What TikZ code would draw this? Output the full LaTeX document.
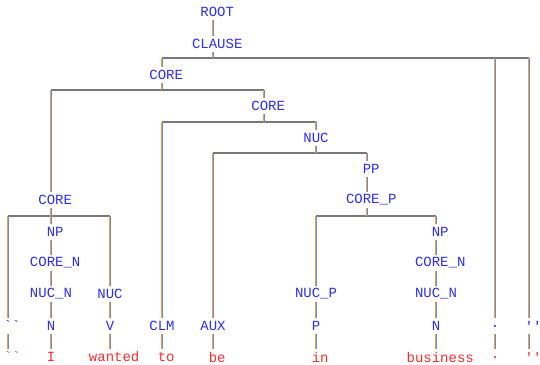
\documentclass[tikz,border=0pt]{standalone}
\usepackage{fontspec}
\setmonofont{Liberation Mono}
\usetikzlibrary{positioning}
\definecolor{catblue}{RGB}{45,45,245}
\definecolor{wordred}{RGB}{250,45,45}
\definecolor{bargray}{RGB}{120,120,120}
\definecolor{linkorange}{RGB}{240,160,60}
\definecolor{linkblue}{RGB}{100,140,215}
\tikzstyle{cat} = [font=\ttfamily\fontsize{14}{14}\selectfont, text=catblue, inner sep=0pt, minimum height=16pt]
\tikzstyle{word} = [font=\ttfamily\fontsize{14}{14}\selectfont, text=wordred, inner sep=0pt, minimum height=16pt]
\tikzstyle{even} = [execute at begin node=\hphantom{x}]
\tikzstyle{linkA} = [draw=linkorange, line width=1pt, transform canvas={xshift=-0.5pt}]
\tikzstyle{linkB} = [draw=linkblue, line width=1pt, transform canvas={xshift=0.5pt}]
\tikzstyle{bar} = [draw=bargray, line width=1.4pt]
% one orange and one blue stroke side by side
\newcommand{\treelink}[2]{\draw [linkA] (#1) -- (#2); \draw [linkB] (#1) -- (#2);}

\begin{document}
\begin{tikzpicture}[x=1pt, y=-1pt]
\useasboundingbox (0,0) rectangle (540,364);

% Upper part of the tree
\node (root) [cat, even] at (213,12) {ROOT};
\node (clause) [cat, even] at (213,44) {CLAUSE};
\node (coreA) [cat, even] at (162,75) {CORE};
\node (coreB) [cat, even] at (264,106) {CORE};
\node (nuc) [cat] at (316,138) {NUC};
\node (pp) [cat, even] at (367,169) {PP};
\node (coreP) [cat, even] at (367,200) {CORE\_P};
\node (coreC) [cat, even] at (51,200) {CORE};

% Left noun phrase and verb
\node (npA) [cat, even] at (51,232) {NP};
\node (corenA) [cat, even] at (51,263) {CORE\_N};
\node (nucnA) [cat] at (51,294) {NUC\_N};
\node (nucV) [cat] at (110,294) {NUC};

% Prepositional phrase
\node (nucP) [cat] at (316,294) {NUC\_P};
\node (npB) [cat, even] at (436,232) {NP};
\node (corenB) [cat, even] at (436,263) {CORE\_N};
\node (nucnB) [cat] at (436,294) {NUC\_N};

% Parts of speech
\node (posQl) [cat, even] at (8,326) {``};
\node (posN) [cat] at (51,326) {N};
\node (posV) [cat] at (110,326) {V};
\node (posClm) [cat] at (162,326) {CLM};
\node (posAux) [cat] at (213,326) {AUX};
\node (posP) [cat] at (316,326) {P};
\node (posNb) [cat] at (436,326) {N};
\node (posDot) [cat] at (495,326) {.};
\node (posQr) [cat, even] at (529,326) {''};

% Words
\node (wQl) [word, even] at (8,357) {``};
\node (wI) [word] at (51,357) {I};
\node (wWanted) [word, even] at (110,357) {wanted};
\node (wTo) [word, even] at (162,357) {to};
\node (wBe) [word, even] at (213,357) {be};
\node (wIn) [word, even] at (316,357) {in};
\node (wBusiness) [word, even] at (436,357) {business};
\node (wDot) [word] at (495,357) {.};
\node (wQr) [word, even] at (529,357) {''};

% Bars
\coordinate (barClause) at (0,58);
\coordinate (barCoreA) at (0,90);
\coordinate (barCoreB) at (0,122);
\coordinate (barNuc) at (0,153);
\coordinate (barCoreP) at (0,216);
\coordinate (barCoreC) at (0,216);

\draw [bar] (coreA |- barClause) -- (posQr |- barClause);
\draw [bar] (coreC |- barCoreA) -- (coreB |- barCoreA);
\draw [bar] (posClm |- barCoreB) -- (nuc |- barCoreB);
\draw [bar] (posAux |- barNuc) -- (pp |- barNuc);
\draw [bar] (nucP |- barCoreP) -- (npB |- barCoreP);
\draw [bar] (posQl |- barCoreC) -- (nucV |- barCoreC);

% Connections
\treelink{root}{clause}
\treelink{clause}{clause |- barClause}
\treelink{coreA |- barClause}{coreA}
\treelink{posDot |- barClause}{posDot}
\treelink{posQr |- barClause}{posQr}

\treelink{coreA}{coreA |- barCoreA}
\treelink{coreC |- barCoreA}{coreC}
\treelink{coreB |- barCoreA}{coreB}

\treelink{coreB}{coreB |- barCoreB}
\treelink{posClm |- barCoreB}{posClm}
\treelink{nuc |- barCoreB}{nuc}

\treelink{nuc}{nuc |- barNuc}
\treelink{posAux |- barNuc}{posAux}
\treelink{pp |- barNuc}{pp}
\treelink{pp}{coreP}

\treelink{coreP}{coreP |- barCoreP}
\treelink{nucP |- barCoreP}{nucP}
\treelink{npB |- barCoreP}{npB}
\treelink{npB}{corenB}
\treelink{corenB}{nucnB}
\treelink{nucnB}{posNb}
\treelink{nucP}{posP}

\treelink{coreC}{coreC |- barCoreC}
\treelink{posQl |- barCoreC}{posQl}
\treelink{npA |- barCoreC}{npA}
\treelink{nucV |- barCoreC}{nucV}
\treelink{npA}{corenA}
\treelink{corenA}{nucnA}
\treelink{nucnA}{posN}
\treelink{nucV}{posV}

\treelink{posQl}{wQl}
\treelink{posN}{wI}
\treelink{posV}{wWanted}
\treelink{posClm}{wTo}
\treelink{posAux}{wBe}
\treelink{posP}{wIn}
\treelink{posNb}{wBusiness}
\treelink{posDot}{wDot}
\treelink{posQr}{wQr}

\end{tikzpicture}
\end{document}
